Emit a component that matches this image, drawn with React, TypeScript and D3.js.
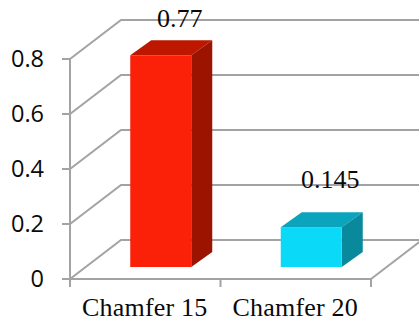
import React from "react";
import * as d3 from "d3";

const categories = ["Chamfer 15", "Chamfer 20"];
const values = [0.77, 0.145];
const valueLabels = ["0.77", "0.145"];
const yTicks = [0, 0.2, 0.4, 0.6, 0.8];
const frontColors = ["#fb2108", "#0bd9f8"];
const topColors = ["#bd1700", "#0aa5bd"];
const sideColors = ["#9c1300", "#08899c"];

const WIDTH = 419;
const HEIGHT = 322;
const AXIS = "#a3a3a3";
const INK = "#0a0a0a";
const SANS = "'Open Sans', sans-serif";
const SERIF = "'Liberation Serif', serif";

// Oblique projection: how far the back wall sits from the front plane.
const WALL_DX = 51;
const WALL_DY = -39;
// Where the bar box sits inside the depth of the floor.
const BAR_DX = 15.5;
const BAR_DY = -12;
const BOX_DX = 21;
const BOX_DY = -15;
const BAR_WIDTH = 61;
// Value labels float above each box by their own amount.
const LABEL_DX = 19;
const LABEL_BASELINE_GAP = [28.5, 39];

export default function App() {
  const x = d3.scaleBand<string>().domain(categories).range([70, 371]);
  const y = d3.scaleLinear().domain([0, 0.8]).range([279, 59]);
  const poly = (pts: [number, number][]) => pts.map((p) => p.join(",")).join(" ");
  const x0 = 70;
  const x1 = 371;
  const y0 = y(0);

  return (
    <svg
      width={WIDTH}
      height={HEIGHT}
      style={{ position: "absolute", left: 0, top: 0, background: "#fff" }}
    >
      {yTicks.map((t) => (
        <g key={t} stroke={AXIS} strokeWidth={2} fill="none">
          <polyline
            points={poly([
              [x0, y(t)],
              [x0 + WALL_DX, y(t) + WALL_DY],
              [WIDTH, y(t) + WALL_DY],
            ])}
          />
          <line x1={x0 - 8} x2={x0} y1={y(t)} y2={y(t)} />
        </g>
      ))}
      <g stroke={AXIS} strokeWidth={2} fill="none">
        <line x1={x0} x2={x0} y1={y(0.8)} y2={y0} />
        <line x1={x0} x2={x1} y1={y0} y2={y0} />
        <line x1={x1} x2={x1 + WALL_DX} y1={y0} y2={y0 + WALL_DY} />
        {[x0, x0 + x.bandwidth(), x1].map((tx) => (
          <line key={tx} x1={tx} x2={tx} y1={y0} y2={y0 + 8} />
        ))}
      </g>

      {categories.map((c, i) => {
        const left = (x(c) as number) + x.bandwidth() / 2 + BAR_DX - BAR_WIDTH / 2;
        const right = left + BAR_WIDTH;
        const top = y(values[i]) + BAR_DY;
        const bottom = y0 + BAR_DY;
        return (
          <g key={c}>
            <polygon
              fill={topColors[i]}
              points={poly([
                [left, top],
                [left + BOX_DX, top + BOX_DY],
                [right + BOX_DX, top + BOX_DY],
                [right, top],
              ])}
            />
            <polygon
              fill={sideColors[i]}
              points={poly([
                [right, top],
                [right + BOX_DX, top + BOX_DY],
                [right + BOX_DX, bottom + BOX_DY],
                [right, bottom],
              ])}
            />
            <rect x={left} y={top} width={BAR_WIDTH} height={bottom - top} fill={frontColors[i]} />
            <text
              x={(left + right) / 2 + LABEL_DX}
              y={top - LABEL_BASELINE_GAP[i]}
              textAnchor="middle"
              fontFamily={SERIF}
              fontSize={26}
              fill={INK}
            >
              {valueLabels[i]}
            </text>
            <text
              x={(x(c) as number) + x.bandwidth() / 2 - 0.5}
              y={316.2}
              textAnchor="middle"
              fontFamily={SERIF}
              fontSize={26}
              letterSpacing={0.2}
              fill={INK}
            >
              {c}
            </text>
          </g>
        );
      })}

      {yTicks.map((t) => (
        <text
          key={t}
          x={44}
          y={y(t) + 8}
          textAnchor="end"
          fontFamily={SANS}
          fontSize={23.5}
          fill={INK}
        >
          {t === 0 ? "0" : d3.format(".1f")(t)}
        </text>
      ))}
    </svg>
  );
}
